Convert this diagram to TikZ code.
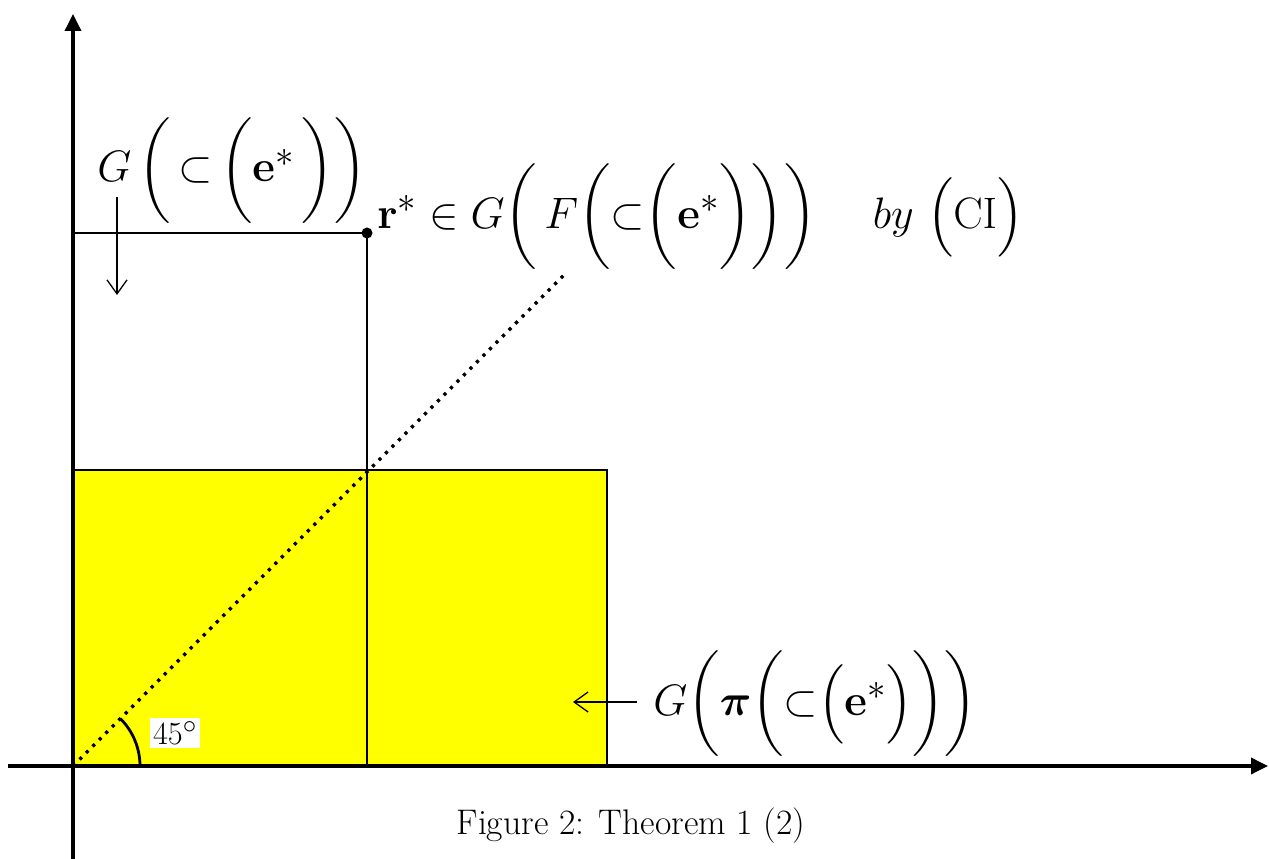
\documentclass[tikz,border=0pt]{standalone}
\usepackage{amsmath,amsfonts,amssymb,bm}
\usepackage{xcolor}
\usepackage{tikz}
\usetikzlibrary{arrows.meta}

\definecolor{setyellow}{RGB}{255,255,0}
\newcommand{\corr}{\mathord{\subset}}
\tikzset{
  axis/.style={line width=3.5pt, -{Triangle[length=17pt,width=16pt]}},
  guide/.style={line width=1.6pt},
  pointer/.style={line width=1.3pt, -{Straight Barb[length=14pt,width=20pt,line width=1.3pt]}},
  bigmath/.style={font=\Huge, scale=1.77, inner sep=0pt},
}

\begin{document}
\begin{tikzpicture}[x=1pt,y=1pt]
  \useasboundingbox (0,0) rectangle (1269,859);
  % points
  \coordinate (O) at (73,93);
  \coordinate (rstar) at (367,626);
  \coordinate (diagend) at (565,585);
  \coordinate (ytop) at (73,845);
  \coordinate (ybot) at (73,0);
  \coordinate (xleft) at (8,93);
  \coordinate (xright) at (1268,93);

  % Yellow set
  \draw[guide, fill=setyellow] (O) rectangle (607,389);

  % r* and its projections
  \draw[guide] (rstar) -- (rstar -| O);
  \draw[guide] (rstar) -- (rstar |- O);
  \fill (rstar) circle (5.5);

  % 45 degree line
  \draw[line width=3.2pt, dash pattern=on 3.2pt off 6pt] (O) -- (diagend);
  \draw[line width=2.8pt] (O) ++(45:67) arc[start angle=45, end angle=0, radius=67];
  \node[fill=white, font=\Huge, scale=1.3, inner sep=2.5pt] (angle) at (175,126) {$45^{\circ}$};

  % axes
  \draw[axis] (ybot) -- (ytop);
  \draw[axis] (xleft) -- (xright);

  % labels
  \node[bigmath, anchor=west] (GC) at (97,688)
    {$G\,\bigg(\,\corr\,\bigg(\mathbf{e}^{*}\,\bigg)\bigg)$};
  \node[bigmath, anchor=west] (rlabel) at (377,642)
    {$\mathbf{r}^{*}\in G\bigg(\,F\bigg(\corr\bigg(\mathbf{e}^{*}\bigg)\bigg)\bigg)\quad\; by\ \Big(\mathrm{CI}\Big)$};
  \node[bigmath, anchor=west] (Gpi) at (653,155)
    {$G\bigg(\bm{\pi}\bigg(\corr\Big(\mathbf{e}^{*}\Big)\bigg)\bigg)$};

  % pointers
  \coordinate (downtail) at (117,662);
  \coordinate (downtip) at (117,564);
  \coordinate (lefttail) at (637,157);
  \coordinate (lefttip) at (573,157);
  \draw[pointer] (downtail) -- (downtip);
  \draw[pointer] (lefttail) -- (lefttip);

  \node[font=\Huge, scale=1.43] (caption) at (631,33) {Figure 2: Theorem 1 (2)};
\end{tikzpicture}
\end{document}
